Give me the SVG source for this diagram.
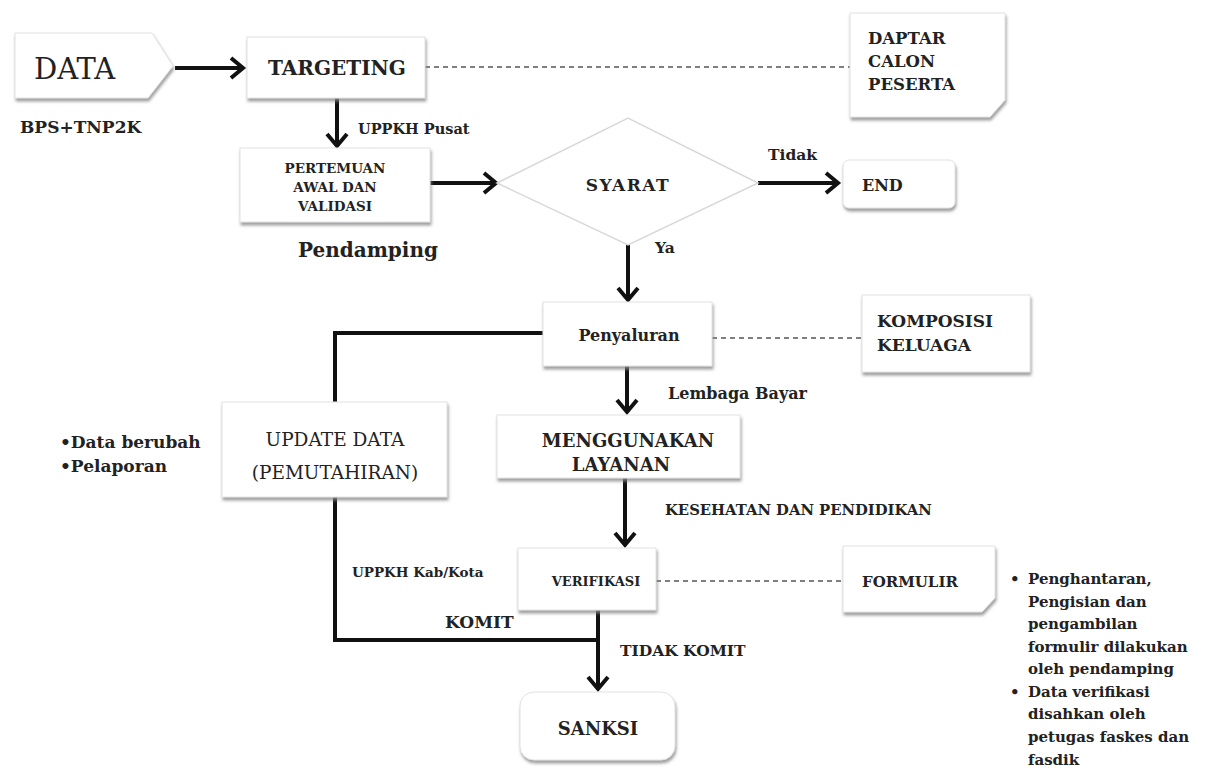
<svg xmlns="http://www.w3.org/2000/svg" width="1217" height="772" viewBox="0 0 1217 772">
<style>
.box{fill:#fff;stroke:#e2e2e2;stroke-width:1;filter:url(#sh)}
.t{font-family:"DejaVu Serif","Liberation Serif",serif;font-weight:bold;fill:#222}
.n{font-weight:normal}
.c{text-anchor:middle}
.ln{stroke:#111;stroke-width:4;fill:none}
.ar{stroke:#111;stroke-width:4;fill:none;marker-end:url(#ah)}
.ds{stroke:#555;stroke-width:1.3;stroke-dasharray:5 4;fill:none}
</style>
<defs>
<filter id="sh" x="-10%" y="-10%" width="125%" height="130%">
<feDropShadow dx="1" dy="3" stdDeviation="1.5" flood-color="#888" flood-opacity="0.8"/>
</filter>
<marker id="ah" markerUnits="userSpaceOnUse" markerWidth="26" markerHeight="26" refX="15" refY="13" orient="auto">
<path d="M3,3 L15,13 L3,23" stroke="#111" stroke-width="4" fill="none"/>
</marker>
</defs>
<rect width="1217" height="772" fill="#fff"/>
<g id="connectors">
<line class="ar" x1="175" y1="68" x2="243" y2="68"/>
<line class="ds" x1="425" y1="67" x2="850" y2="67"/>
<line class="ar" x1="337" y1="98" x2="337" y2="146"/>
<line class="ar" x1="430" y1="183" x2="496" y2="183"/>
<line class="ar" x1="758" y1="183" x2="838" y2="183"/>
<line class="ar" x1="628" y1="245" x2="628" y2="300"/>
<line class="ds" x1="712" y1="338" x2="862" y2="338"/>
<polyline class="ln" points="543,333 335,333 335,640 598,640"/>
<line class="ar" x1="627" y1="366" x2="627" y2="412"/>
<line class="ar" x1="625" y1="478" x2="625" y2="545"/>
<line class="ds" x1="656" y1="581" x2="843" y2="581"/>
<line class="ar" x1="598" y1="610" x2="598" y2="689"/>
</g>
<g id="data">
<polygon class="box" points="15,33 152,33 173,66 148,98 15,98"/>
<text class="t n" x="34" y="79" font-size="29">DATA</text>
</g>
<text class="t" x="20" y="133" font-size="17">BPS+TNP2K</text>
<g id="targeting">
<rect class="box" x="247" y="37" width="178" height="61"/>
<text class="t c" x="337" y="75" font-size="20">TARGETING</text>
</g>
<g id="daptar">
<polygon class="box" points="850,13 1005,13 1005,100 990,117 850,117"/>
<text class="t" x="868" y="44" font-size="16.5">DAPTAR</text>
<text class="t" x="868" y="67" font-size="16.5">CALON</text>
<text class="t" x="868" y="90" font-size="16.5">PESERTA</text>
</g>
<text class="t" x="358" y="134" font-size="14.5">UPPKH Pusat</text>
<g id="pertemuan">
<rect class="box" x="240" y="148" width="190" height="74"/>
<text class="t c" x="335" y="173" font-size="13.5">PERTEMUAN</text>
<text class="t c" x="335" y="192" font-size="13.5">AWAL DAN</text>
<text class="t c" x="335" y="211" font-size="13.5">VALIDASI</text>
</g>
<text class="t" x="298" y="257" font-size="20">Pendamping</text>
<g id="syarat">
<polygon points="497,183 628,118 758,183 628,245" fill="#fff" stroke="#d8d8d8" stroke-width="1.5"/>
<text class="t c" x="628" y="191" font-size="17" letter-spacing="1.5">SYARAT</text>
</g>
<text class="t" x="768" y="160" font-size="15.5">Tidak</text>
<g id="end">
<rect class="box" x="843" y="160" width="112" height="48" rx="6"/>
<text class="t" x="862" y="191" font-size="16">END</text>
</g>
<text class="t" x="655" y="253" font-size="15.5">Ya</text>
<g id="penyaluran">
<rect class="box" x="543" y="302" width="169" height="64"/>
<text class="t c" x="629" y="341" font-size="16">Penyaluran</text>
</g>
<g id="komposisi">
<rect class="box" x="862" y="295" width="168" height="77"/>
<text class="t" x="877" y="327" font-size="17">KOMPOSISI</text>
<text class="t" x="877" y="351" font-size="17">KELUAGA</text>
</g>
<text class="t" x="668" y="399" font-size="16">Lembaga Bayar</text>
<g id="update">
<rect class="box" x="222" y="402" width="225" height="95"/>
<text class="t c n" x="335" y="446" font-size="18.5">UPDATE DATA</text>
<text class="t c n" x="335" y="479" font-size="18.5">(PEMUTAHIRAN)</text>
</g>
<text class="t" x="60" y="448" font-size="17">•Data berubah</text>
<text class="t" x="60" y="472" font-size="17">•Pelaporan</text>
<g id="menggunakan">
<rect class="box" x="497" y="415" width="243" height="63"/>
<text class="t c" x="628" y="447" font-size="18">MENGGUNAKAN</text>
<text class="t c" x="621" y="471" font-size="18">LAYANAN</text>
</g>
<text class="t" x="665" y="515" font-size="14.8">KESEHATAN DAN PENDIDIKAN</text>
<text class="t" x="352" y="577" font-size="13.5">UPPKH Kab/Kota</text>
<g id="verifikasi">
<rect class="box" x="518" y="548" width="138" height="62"/>
<text class="t c" x="596" y="586" font-size="13">VERIFIKASI</text>
</g>
<g id="formulir">
<polygon class="box" points="843,546 995,546 995,598 982,612 843,612"/>
<text class="t" x="862" y="587" font-size="15">FORMULIR</text>
</g>
<text class="t" x="445" y="628" font-size="17">KOMIT</text>
<text class="t" x="620" y="656" font-size="15.5">TIDAK KOMIT</text>
<g id="sanksi">
<rect class="box" x="520" y="692" width="155" height="68" rx="14"/>
<text class="t c" x="598" y="735" font-size="18">SANKSI</text>
</g>
<g class="t" font-size="15">
<text x="1010" y="584">•</text>
<text x="1028" y="584">Penghantaran,</text>
<text x="1028" y="607">Pengisian dan</text>
<text x="1028" y="629">pengambilan</text>
<text x="1028" y="652">formulir dilakukan</text>
<text x="1028" y="674">oleh pendamping</text>
<text x="1010" y="697">•</text>
<text x="1028" y="697">Data verifikasi</text>
<text x="1028" y="719">disahkan oleh</text>
<text x="1028" y="742">petugas faskes dan</text>
<text x="1028" y="765">fasdik</text>
</g>
</svg>
